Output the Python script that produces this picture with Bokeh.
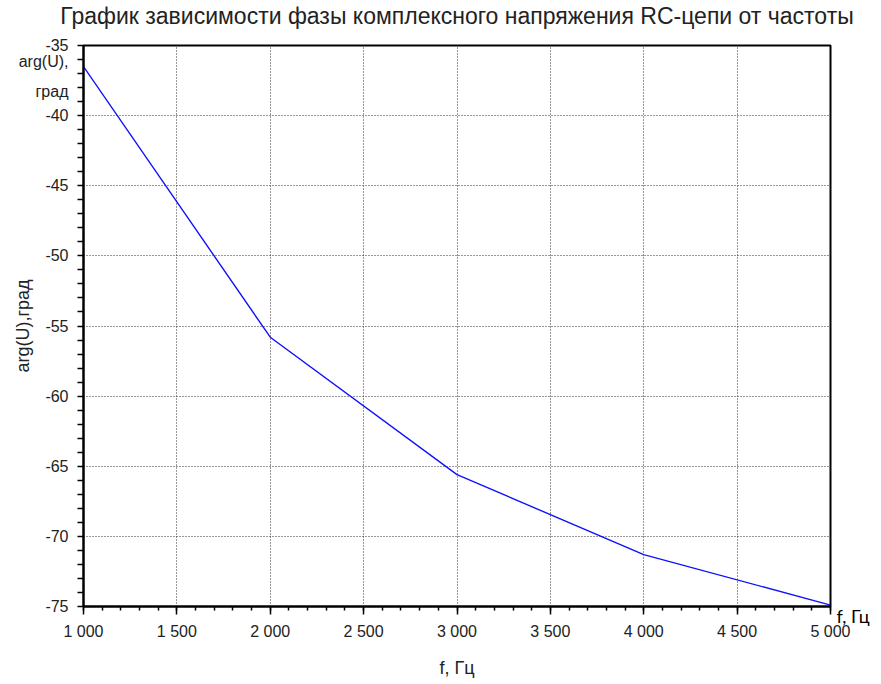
from bokeh.plotting import figure
from bokeh.models import Range1d, SingleIntervalTicker, FixedTicker, Title, LinearAxis
from bokeh.embed import file_html
from bokeh.resources import INLINE

# ---- data ----
freq_hz = [1000, 2000, 3000, 4000, 5000]
phase_deg = [-36.5, -55.8, -65.6, -71.3, -74.9]

x_ticks = [1000, 1500, 2000, 2500, 3000, 3500, 4000, 4500, 5000]
x_tick_labels = ["1 000", "1 500", "2 000", "2 500", "3 000", "3 500", "4 000", "4 500", "5 000"]
y_ticks = [-75, -70, -65, -60, -55, -50, -45, -40, -35]
y_tick_labels = ["-75", "-70", "-65", "-60", "-55", "-50", "-45", "-40", "-35"]

title_text = "График зависимости фазы комплексного напряжения RC-цепи от частоты"
x_label = "f, Гц"
y_label = "arg(U),град"
corner_y_1 = "arg(U),"
corner_y_2 = "град"
corner_x = "f, Гц"

# where the corner captions sit (y in axis units)
corner_y_1_pos = -36.14
corner_y_2_pos = -38.29

FONT = "Liberation Sans"

p = figure(width=881, height=684, output_backend="svg", toolbar_location=None,
           x_range=Range1d(x_ticks[0], x_ticks[-1]),
           y_range=Range1d(y_ticks[0], y_ticks[-1]),
           min_border_left=83, min_border_right=51, min_border_top=44, min_border_bottom=78,
           background_fill_color="white", border_fill_color="white")

p.line(freq_hz, phase_deg, line_color="#1010ff", line_width=1.4)

p.outline_line_color = "black"
p.outline_line_width = 2
p.outline_line_alpha = 1

xa = p.xaxis[0]
ya = p.yaxis[0]
xa.ticker = SingleIntervalTicker(interval=500, num_minor_ticks=5)
xa.major_label_overrides = {t: l for t, l in zip(x_ticks, x_tick_labels)}

y_minor = [v for v in range(y_ticks[0], y_ticks[-1] + 1)]
ya.ticker = FixedTicker(ticks=y_ticks + [corner_y_1_pos, corner_y_2_pos], minor_ticks=y_minor)
y_over = {t: l for t, l in zip(y_ticks, y_tick_labels)}
y_over[corner_y_1_pos] = corner_y_1
y_over[corner_y_2_pos] = corner_y_2
ya.major_label_overrides = y_over

for ax in (xa, ya):
    ax.axis_line_color = "black"
    ax.axis_line_width = 2
    ax.major_tick_line_color = "black"
    ax.minor_tick_line_color = "black"
    ax.major_tick_line_width = 1.5
    ax.minor_tick_line_width = 1.5
    ax.major_tick_in = 0
    ax.minor_tick_in = 0
    ax.major_label_text_font = FONT
    ax.major_label_text_font_size = "16px"
    ax.major_label_text_color = "#222222"
    ax.axis_label_text_font = FONT
    ax.axis_label_text_font_style = "normal"
    ax.axis_label_text_font_size = "18px"
    ax.axis_label_text_color = "#222222"

xa.major_tick_out = 8
xa.minor_tick_out = 4
ya.major_tick_out = 0
ya.minor_tick_out = 6
xa.major_label_standoff = 8
ya.major_label_standoff = 9
xa.axis_label = x_label
ya.axis_label = y_label
xa.axis_label_standoff = 15
ya.axis_label_standoff = -17

p.xgrid[0].ticker = SingleIntervalTicker(interval=500)
p.ygrid[0].ticker = SingleIntervalTicker(interval=5)
for g in (p.xgrid[0], p.ygrid[0]):
    g.grid_line_color = "#303030"
    g.grid_line_dash = "1 2"
    g.grid_line_width = 1

# right-hand caption for the frequency axis
ra = LinearAxis(ticker=FixedTicker(ticks=[y_ticks[0]]),
                major_label_overrides={y_ticks[0]: "\n" + corner_x},
                axis_line_color=None, major_tick_line_color=None, minor_tick_line_color=None,
                major_tick_out=0, major_tick_in=0, minor_tick_out=0, minor_tick_in=0,
                major_label_standoff=6, major_label_text_font="Lato",
                major_label_text_font_size="18px", major_label_text_color="black",
                major_label_text_line_height=0.9)
p.add_layout(ra, "right")

# spacer (inner) + main title (outer)
p.add_layout(Title(text=" ", text_font_size="1px", standoff=14), "above")
p.add_layout(Title(text=title_text, align="center", vertical_align="bottom", standoff=0,
                   text_font=FONT, text_font_size="23px", text_color="#222222",
                   text_font_style="normal"), "above")

open("out.html", "w").write(file_html(p, INLINE))
